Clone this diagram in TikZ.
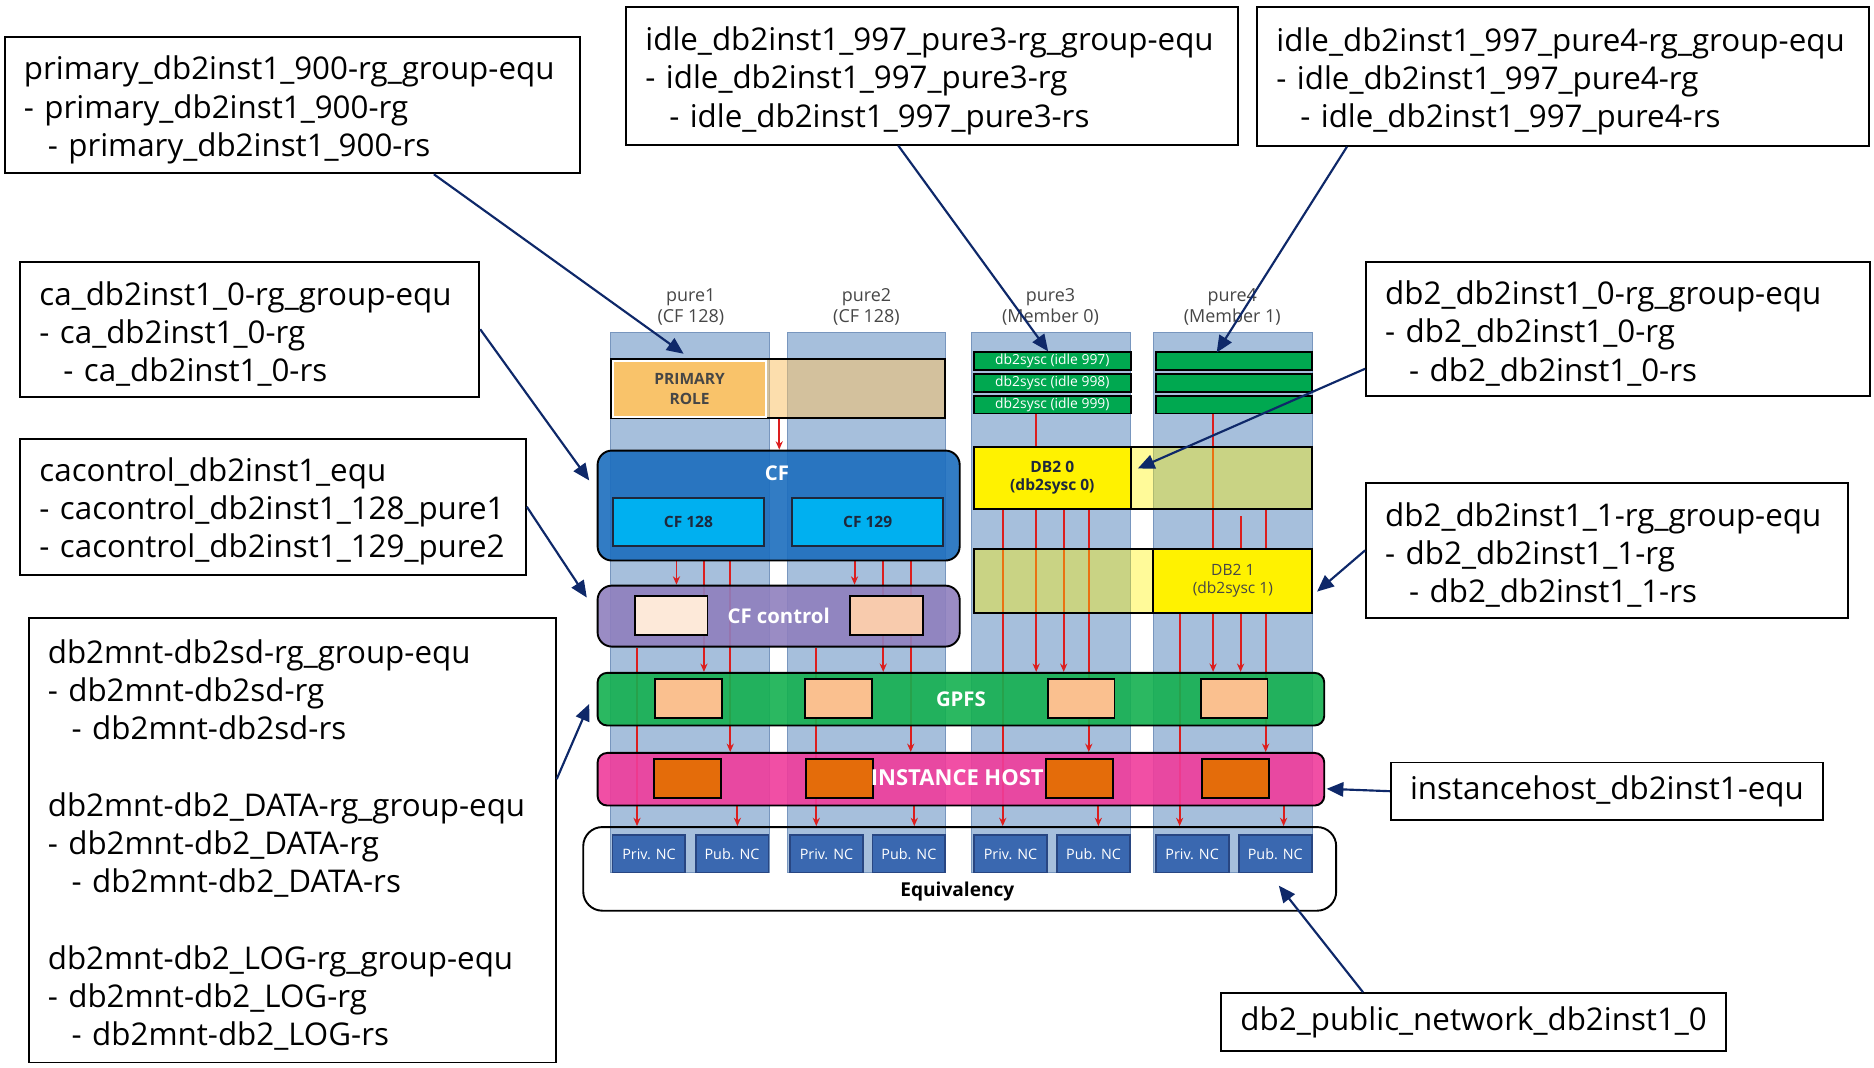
\documentclass[tikz,border=0pt]{standalone}
\usepackage{fontspec}
\setmainfont{Open Sans}
\usetikzlibrary{arrows.meta,backgrounds}

\definecolor{colfill}{RGB}{166,191,220}
\definecolor{coledge}{RGB}{120,150,190}
\definecolor{cfblue}{RGB}{28,110,190}
\definecolor{cfinner}{RGB}{0,176,240}
\definecolor{ctrlpurple}{RGB}{143,127,190}
\definecolor{gpfsgreen}{RGB}{20,176,80}
\definecolor{ihpink}{RGB}{240,60,155}
\definecolor{peachA}{RGB}{253,233,217}
\definecolor{peachB}{RGB}{248,203,173}
\definecolor{gpfsslot}{RGB}{250,192,143}
\definecolor{ihslot}{RGB}{228,108,10}
\definecolor{idlegreen}{RGB}{0,168,80}
\definecolor{ncblue}{RGB}{58,104,176}
\definecolor{ncedge}{RGB}{40,70,130}
\definecolor{flowred}{RGB}{220,30,30}
\definecolor{navy}{RGB}{14,40,105}
\definecolor{primorange}{RGB}{249,195,106}
\definecolor{labgray}{RGB}{70,70,70}
\definecolor{darktext}{RGB}{30,40,60}

\newcommand\callfont{\fontsize{13.1}{16}\selectfont}
\newcommand\layerfont{\fontsize{8.5}{10}\selectfont\bfseries}

\begin{document}
\begin{tikzpicture}[x=0.5pt,y=-0.5pt,semithick]
\tikzstyle{callout}=[draw=black,thick,fill=white,align=left,inner xsep=8pt,inner ysep=0pt,font=\callfont,text=black]
\tikzstyle{stack}=[callout,execute at begin node={\rule{0pt}{14pt}}]
\tikzstyle{pin}=[-{Triangle[length=7pt,width=6pt]},draw=navy,line width=0.9pt]
\tikzstyle{flow}=[-{Stealth[length=3.5pt,width=3pt]},draw=flowred,line width=0.8pt]
\tikzstyle{column}=[fill=colfill,draw=coledge,minimum width=66.5pt,minimum height=226pt,inner sep=0pt]
\tikzstyle{collabel}=[align=center,font=\fontsize{7.5}{9}\selectfont,text=labgray]
\tikzstyle{layer}=[draw=black,thick,rounded corners=6pt,fill opacity=0.9,text opacity=1,text=white,font=\layerfont,inner sep=0pt]
\tikzstyle{slot}=[draw=black,thick,inner sep=0pt,minimum width=28pt,minimum height=16.5pt]
\tikzstyle{cfslot}=[fill=cfinner,draw=darktext,thick,inner sep=0pt,minimum width=63pt,minimum height=20pt,text=darktext,font=\fontsize{6.5}{8}\selectfont\bfseries]
\tikzstyle{nic}=[fill=ncblue,draw=ncedge,thick,text=white,font=\fontsize{6}{7}\selectfont,minimum width=30.5pt,minimum height=15.5pt,inner sep=0pt]
\tikzstyle{idlebar}=[fill=idlegreen,draw=black,thick,minimum width=65.5pt,minimum height=7.5pt,inner sep=0pt,text=white,font=\fontsize{5.8}{6}\selectfont]
\tikzstyle{band}=[draw=black,thick,inner sep=0pt]
\tikzstyle{member}=[fill=yellow,draw=black,thick,inner sep=0pt,align=center,font=\fontsize{6.5}{7.5}\selectfont]

\useasboundingbox (0,0) rectangle (1568,893);

\begin{scope}[on background layer]
\node[column] (col1) at (577.5,504) {};
\node[column] (col2) at (725,504) {};
\node[column] (col3) at (879.5,504) {};
\node[column] (col4) at (1031.5,504) {};
\end{scope}

\node[collabel] (lab1) at (578,257) {pure1\\(CF 128)};
\node[collabel] (lab2) at (725,257) {pure2\\(CF 128)};
\node[collabel] (lab3) at (879,257) {pure3\\(Member 0)};
\node[collabel] (lab4) at (1031,257) {pure4\\(Member 1)};

\node[band,fill=primorange,fill opacity=0.55,minimum width=140pt,minimum height=25pt] (prband) at (651,325) {};
\node[draw=white,thick,fill=primorange,minimum width=64pt,minimum height=23.5pt,inner sep=0pt,align=center,text=labgray,font=\fontsize{6.5}{8}\selectfont\bfseries] (role) at (577,325.5) {PRIMARY\\ROLE};

\node[idlebar] (i31) at (880.5,302) {db2sysc (idle 997)};
\node[idlebar] (i32) at (880.5,320.5) {db2sysc (idle 998)};
\node[idlebar] (i33) at (880.5,338.5) {db2sysc (idle 999)};
\node[idlebar] (i41) at (1032.5,302) {};
\node[idlebar] (i42) at (1032.5,320.5) {};
\node[idlebar] (i43) at (1032.5,338.5) {};

\node[layer,fill=cfblue,minimum width=151.5pt,minimum height=46pt] (cf) at (651.5,423) {};
\node[text=white,font=\layerfont] (cflab) at (650,396) {CF};
\node[cfslot] (cf128) at (576,437) {CF 128};
\node[cfslot] (cf129) at (726,437) {CF 129};

\node[band,fill=yellow,fill opacity=0.4,minimum width=141.5pt,minimum height=26pt] (db0band) at (956.5,400) {};
\node[member,minimum width=65.5pt,minimum height=26pt,font=\fontsize{6.5}{7.5}\selectfont\bfseries,text=darktext] (db0) at (880.5,400) {DB2 0\\(db2sysc 0)};
\node[band,fill=yellow,fill opacity=0.4,minimum width=141.5pt,minimum height=27pt] (db1band) at (956.5,486) {};
\node[member,minimum width=66.5pt,minimum height=27pt,text=labgray] (db1) at (1031.5,486) {DB2 1\\(db2sysc 1)};

\node[layer,fill=ctrlpurple,minimum width=151.5pt,minimum height=25.5pt] (cfc) at (651.5,515.5) {CF control};
\node[slot,fill=peachA,minimum width=30.5pt,minimum height=16pt] (cfc1) at (561.5,515) {};
\node[slot,fill=peachB,minimum width=30.5pt,minimum height=16pt] (cfc2) at (741.5,515) {};

\node[layer,fill=gpfsgreen,rounded corners=4pt,minimum width=304pt,minimum height=22pt] (gpfs) at (804,585) {GPFS};
\node[slot,fill=gpfsslot] (g1) at (576,584.5) {};
\node[slot,fill=gpfsslot] (g2) at (701.5,584.5) {};
\node[slot,fill=gpfsslot] (g3) at (904.5,584.5) {};
\node[slot,fill=gpfsslot] (g4) at (1032.5,584.5) {};

\node[layer,fill=ihpink,rounded corners=4pt,minimum width=304pt,minimum height=22pt] (ihost) at (804,652) {};
\node[slot,fill=ihslot] (h1) at (575.5,651.5) {};
\node[slot,fill=ihslot] (h2) at (702.5,651.5) {};
\node[slot,fill=ihslot] (h3) at (903.5,651.5) {};
\node[slot,fill=ihslot] (h4) at (1033.5,651.5) {};
\node[text=white,font=\fontsize{9.2}{10}\selectfont\bfseries] (ihlab) at (801,651) {INSTANCE HOST};

\node[draw=black,thick,rounded corners=8pt,minimum width=315pt,minimum height=35pt] (equ) at (803,727) {};
\node[font=\fontsize{8}{9}\selectfont\bfseries] (equlab) at (801,746) {Equivalency};
\node[nic] (p1) at (543,714.5) {Priv. NC};
\node[nic] (q1) at (612.5,714.5) {Pub. NC};
\node[nic] (p2) at (691.5,714.5) {Priv. NC};
\node[nic] (q2) at (760.5,714.5) {Pub. NC};
\node[nic] (p3) at (845.5,714.5) {Priv. NC};
\node[nic] (q3) at (915,714.5) {Pub. NC};
\node[nic] (p4) at (997.5,714.5) {Priv. NC};
\node[nic] (q4) at (1067,714.5) {Pub. NC};

\begin{scope}[on background layer]
\draw[flow] (prband.south -| 652,0) -- (cf.north -| 652,0);
\draw[flow] (cf.south -| 566,0) -- (cfc.north -| 566,0);
\draw[flow] (cf.south -| 589,0) -- (gpfs.north -| 589,0);
\draw[flow] (cf.south -| 611,0) -- (ihost.north -| 611,0);
\draw[flow] (cfc.south -| 533,0) -- (equ.north -| 533,0);
\draw[flow] (ihost.south -| 617,0) -- (equ.north -| 617,0);

\draw[flow] (cf.south -| 715,0) -- (cfc.north -| 715,0);
\draw[flow] (cf.south -| 739,0) -- (gpfs.north -| 739,0);
\draw[flow] (cf.south -| 762,0) -- (ihost.north -| 762,0);
\draw[flow] (cfc.south -| 683,0) -- (equ.north -| 683,0);
\draw[flow] (ihost.south -| 765,0) -- (equ.north -| 765,0);

\draw[flowred,line width=0.8pt] (i33.south -| 867,0) -- (db0.north -| 867,0);
\draw[flow] (db0.south -| 839,0) -- (equ.north -| 839,0);
\draw[flow] (db0.south -| 867,0) -- (gpfs.north -| 867,0);
\draw[flow] (db0.south -| 890,0) -- (gpfs.north -| 890,0);
\draw[flow] (db0.south -| 911,0) -- (ihost.north -| 911,0);
\draw[flow] (ihost.south -| 919,0) -- (equ.north -| 919,0);

\draw[flow] (i43.south -| 1015,0) -- (gpfs.north -| 1015,0);
\draw[flow] ([yshift=-2.5pt]db0band.south -| 1038,0) -- (gpfs.north -| 1038,0);
\draw[flow] (db0band.south -| 1059,0) -- (ihost.north -| 1059,0);
\draw[flow] (db1.south -| 987,0) -- (equ.north -| 987,0);
\draw[flow] (ihost.south -| 1074,0) -- (equ.north -| 1074,0);
\end{scope}

\node[stack,text width=224.5pt,minimum height=57pt] (cprim) at (244.5,88) {primary\_db2inst1\_900-rg\_group-equ\\- primary\_db2inst1\_900-rg\\\hspace*{10pt}- primary\_db2inst1\_900-rs};
\node[stack,text width=176pt,minimum height=56.5pt] (cca) at (209,275.5) {ca\_db2inst1\_0-rg\_group-equ\\- ca\_db2inst1\_0-rg\\\hspace*{10pt}- ca\_db2inst1\_0-rs};
\node[stack,text width=195.5pt,minimum height=57pt] (cctl) at (228.5,424) {cacontrol\_db2inst1\_equ\\- cacontrol\_db2inst1\_128\_pure1\\- cacontrol\_db2inst1\_129\_pure2};
\node[stack,text width=204.5pt,minimum height=186pt] (cmnt) at (244.5,703) {db2mnt-db2sd-rg\_group-equ\\- db2mnt-db2sd-rg\\\hspace*{10pt}- db2mnt-db2sd-rs\\[16pt]db2mnt-db2\_DATA-rg\_group-equ\\- db2mnt-db2\_DATA-rg\\\hspace*{10pt}- db2mnt-db2\_DATA-rs\\[16pt]db2mnt-db2\_LOG-rg\_group-equ\\- db2mnt-db2\_LOG-rg\\\hspace*{10pt}- db2mnt-db2\_LOG-rs};
\node[stack,text width=240pt,minimum height=57.5pt] (cidle3) at (780,63.5) {idle\_db2inst1\_997\_pure3-rg\_group-equ\\- idle\_db2inst1\_997\_pure3-rg\\\hspace*{10pt}- idle\_db2inst1\_997\_pure3-rs};
\node[stack,text width=240pt,minimum height=58pt] (cidle4) at (1308,64) {idle\_db2inst1\_997\_pure4-rg\_group-equ\\- idle\_db2inst1\_997\_pure4-rg\\\hspace*{10pt}- idle\_db2inst1\_997\_pure4-rs};
\node[stack,text width=195pt,minimum height=56pt] (cdb0) at (1354,275) {db2\_db2inst1\_0-rg\_group-equ\\- db2\_db2inst1\_0-rg\\\hspace*{10pt}- db2\_db2inst1\_0-rs};
\node[stack,text width=185.5pt,minimum height=56.5pt] (cdb1) at (1344.5,460.5) {db2\_db2inst1\_1-rg\_group-equ\\- db2\_db2inst1\_1-rg\\\hspace*{10pt}- db2\_db2inst1\_1-rs};
\node[callout,minimum width=180.5pt,minimum height=24pt] (cih) at (1344.5,662) {instancehost\_db2inst1-equ};
\node[callout,minimum width=211pt,minimum height=24pt] (cpub) at (1233,855) {db2\_public\_network\_db2inst1\_0};

\coordinate (t1) at (572,296);
\coordinate (t2) at (493,402);
\coordinate (t3) at (491,500);
\coordinate (t4) at (493,589);
\coordinate (t5) at (877,294);
\coordinate (t6) at (1018,295);
\coordinate (t7) at (952,392);
\coordinate (t8) at (1102,495);
\coordinate (t9) at (1110,660);
\coordinate (t10) at (1070,741);

\draw[pin] (cprim.-26) -- (t1);
\draw[pin] (cca.east) -- (t2);
\draw[pin] (cctl.east) -- (t3);
\draw[pin] (cmnt.13) -- (t4);
\draw[pin] (cidle3.-116) -- (t5);
\draw[pin] (cidle4.-162) -- (t6);
\draw[pin] (cdb0.-171) -- (t7);
\draw[pin] (cdb1.west) -- (t8);
\draw[pin] (cih.west) -- (t9);
\draw[pin] (cpub.165) -- (t10);

\end{tikzpicture}
\end{document}
